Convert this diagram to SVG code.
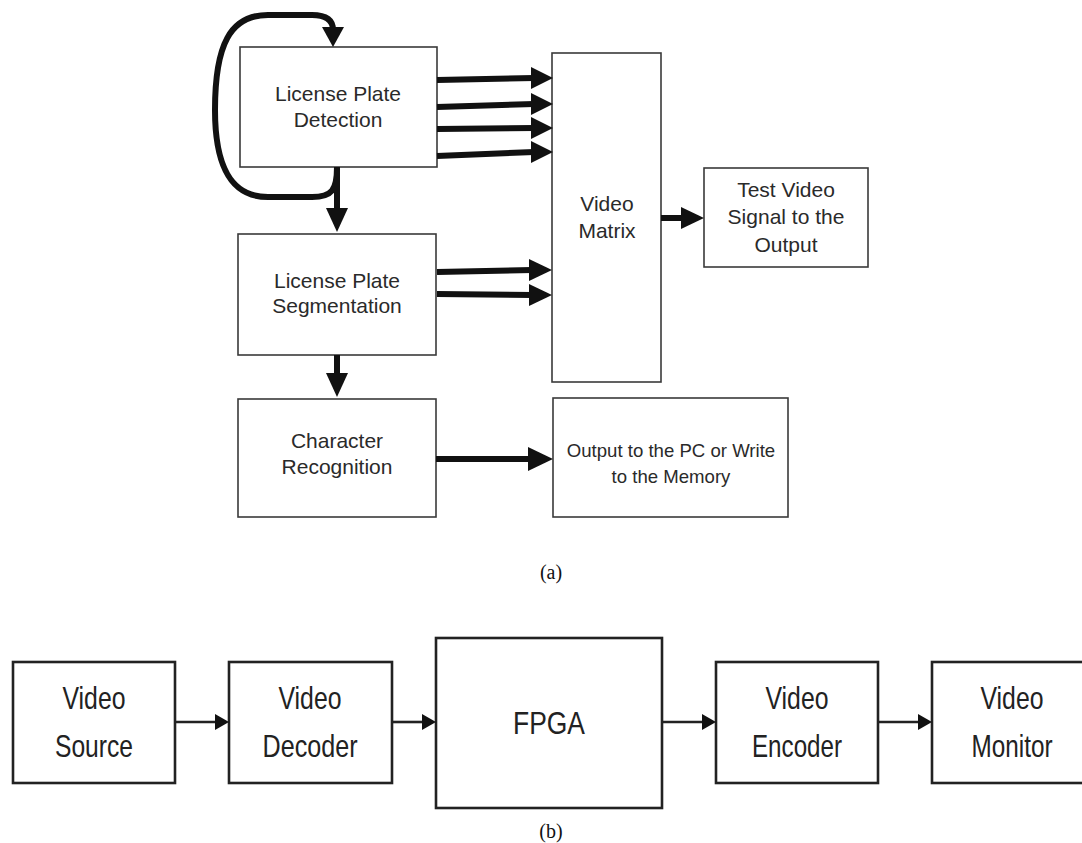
<svg xmlns="http://www.w3.org/2000/svg" width="1082" height="843" viewBox="0 0 1082 843">
<defs>
<style>
.ba{fill:#fff;stroke:#3a3a3a;stroke-width:1.6}
.bb{fill:#fff;stroke:#222;stroke-width:2.6}
.ta{font-family:"Liberation Sans",Arial,sans-serif;font-size:21px;fill:#2a2a2a;text-anchor:middle}
.tb{font-family:"Liberation Sans",Arial,sans-serif;font-size:32px;fill:#222;text-anchor:middle}
.cap{font-family:"Liberation Serif","Times New Roman",serif;font-size:20px;fill:#111;text-anchor:middle}
.thick{fill:none;stroke:#111;stroke-width:6}
.thin{fill:none;stroke:#222;stroke-width:2.6}
.head{fill:#111}
</style>
</defs>
<rect width="1082" height="843" fill="#fff"/>

<g id="lpd"><rect class="ba" x="240" y="47" width="197" height="120"/>
<text class="ta" x="338" y="101">License Plate</text><text class="ta" x="338" y="127">Detection</text></g>
<g id="lps"><rect class="ba" x="238" y="234" width="198" height="121"/>
<text class="ta" x="337" y="288">License Plate</text><text class="ta" x="337" y="313">Segmentation</text></g>
<g id="cr"><rect class="ba" x="238" y="399" width="198" height="118"/>
<text class="ta" x="337" y="448">Character</text><text class="ta" x="337" y="474">Recognition</text></g>
<g id="vm"><rect class="ba" x="552" y="53" width="109" height="329"/>
<text class="ta" x="607" y="211">Video</text><text class="ta" x="607" y="238">Matrix</text></g>
<g id="tv"><rect class="ba" x="704" y="168" width="164" height="99"/>
<text class="ta" x="786" y="197">Test Video</text><text class="ta" x="786" y="224">Signal to the</text><text class="ta" x="786" y="252">Output</text></g>
<g id="out"><rect class="ba" x="553" y="398" width="235" height="119"/>
<text class="ta" x="671" y="457" style="font-size:18.6px">Output to the PC or Write</text><text class="ta" x="671" y="483" style="font-size:18.6px">to the Memory</text></g>

<g id="src"><rect class="bb" x="13" y="662" width="162" height="121"/>
<text class="tb" x="94" y="709" textLength="63" lengthAdjust="spacingAndGlyphs">Video</text><text class="tb" x="94" y="757" textLength="78" lengthAdjust="spacingAndGlyphs">Source</text></g>
<g id="dec"><rect class="bb" x="229" y="662" width="163" height="121"/>
<text class="tb" x="310" y="709" textLength="63" lengthAdjust="spacingAndGlyphs">Video</text><text class="tb" x="310" y="757" textLength="95" lengthAdjust="spacingAndGlyphs">Decoder</text></g>
<g id="fpga"><rect class="bb" x="436" y="638" width="226" height="170"/>
<text class="tb" x="549" y="734" textLength="72" lengthAdjust="spacingAndGlyphs">FPGA</text></g>
<g id="enc"><rect class="bb" x="716" y="662" width="162" height="121"/>
<text class="tb" x="797" y="709" textLength="63" lengthAdjust="spacingAndGlyphs">Video</text><text class="tb" x="797" y="757" textLength="90" lengthAdjust="spacingAndGlyphs">Encoder</text></g>
<g id="mon"><rect class="bb" x="932" y="662" width="162" height="121"/>
<text class="tb" x="1012" y="709" textLength="63" lengthAdjust="spacingAndGlyphs">Video</text><text class="tb" x="1012" y="757" textLength="81" lengthAdjust="spacingAndGlyphs">Monitor</text></g>

<g id="connectors">
<path class="thick" d="M337,167 C337,190 332,197 312,197 L268,197 C230,197 215,165 215,110 C215,45 230,15 268,15 L312,15 C326,15 333,20 333,30"/>
<polygon class="head" points="322,27 344,27 333,47"/>
<path class="thick" d="M337,167 L337,210"/>
<polygon class="head" points="326,208 348,208 337,232"/>
<path class="thick" d="M437,80 L534,78"/><polygon class="head" points="531,67 553,78 531,89"/>
<path class="thick" d="M437,107 L534,104"/><polygon class="head" points="531,93 553,104 531,115"/>
<path class="thick" d="M437,129 L534,128"/><polygon class="head" points="531,117 553,128 531,139"/>
<path class="thick" d="M437,156 L534,152"/><polygon class="head" points="531,141 553,152 531,163"/>
<path class="thick" d="M437,272 L532,270"/><polygon class="head" points="529,259 552,270 529,281"/>
<path class="thick" d="M437,294 L532,295"/><polygon class="head" points="529,284 552,295 529,306"/>
<path class="thick" d="M661,218 L684,218"/><polygon class="head" points="681,207 704,218 681,229"/>
<path class="thick" d="M337,355 L337,375"/><polygon class="head" points="326,373 348,373 337,397"/>
<path class="thick" d="M436,459 L531,459"/><polygon class="head" points="528,447 553,459 528,471"/>

<path class="thin" d="M175,722 L217,722"/><polygon class="head" points="215,714 229,722 215,730"/>
<path class="thin" d="M392,722 L424,722"/><polygon class="head" points="422,714 436,722 422,730"/>
<path class="thin" d="M662,722 L704,722"/><polygon class="head" points="702,714 716,722 702,730"/>
<path class="thin" d="M878,722 L920,722"/><polygon class="head" points="918,714 932,722 918,730"/>
</g>

<text class="cap" x="551" y="579">(a)</text>
<text class="cap" x="551" y="838">(b)</text>
</svg>
